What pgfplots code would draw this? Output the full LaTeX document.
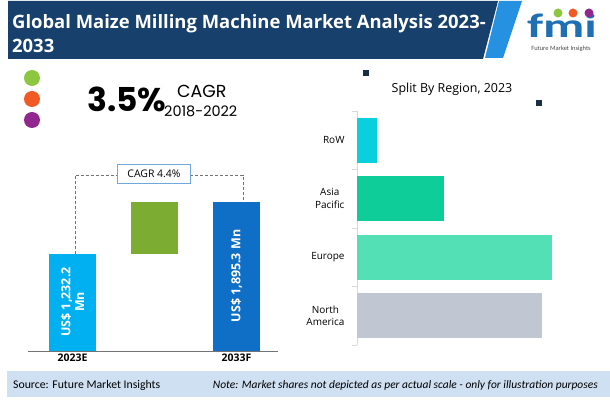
\documentclass[border=0pt]{standalone}
\usepackage{pgfplots}
\pgfplotsset{compat=1.18}
\usepackage{fontspec}
\setmainfont{Carlito}
\newfontfamily\gothic{Poppins}
\newfontfamily\osans{Open Sans}
\definecolor{banner}{HTML}{17406D}
\definecolor{stripe}{HTML}{2591E0}
\definecolor{foot}{HTML}{CFE0F2}
\definecolor{cA}{HTML}{00B0F0}
\definecolor{cB}{HTML}{7DAC33}
\definecolor{cC}{HTML}{0F6FC6}
\definecolor{boxb}{HTML}{6FA8DC}
\definecolor{rRoW}{HTML}{0ACFDC}
\definecolor{rAP}{HTML}{0FCD98}
\definecolor{rEU}{HTML}{52E0B4}
\definecolor{rNA}{HTML}{C0C7D2}
\definecolor{sq}{HTML}{1A2E45}
\definecolor{dg}{HTML}{8DC63F}
\definecolor{do}{HTML}{F15A24}
\definecolor{dp}{HTML}{92278F}
\definecolor{logob}{HTML}{1F6FB5}
\begin{document}
\begin{tikzpicture}
\begin{scope}[x=1bp,y=1bp]
\fill[white] (0,0) rectangle (610,399);
\end{scope}

% left bar chart
\begin{axis}[at={(28bp,48bp)},anchor=south west,scale only axis,width=250bp,height=181bp,
  xmin=-0.5427,xmax=2.506,ymin=0,ymax=2302,
  axis x line*=bottom,axis y line=none,
  x axis line style={draw=black!55,line width=0.9pt,-},
  xtick={0,2},xticklabels={2023E,2033F},
  xticklabel style={font=\fontsize{10.5}{12}\osans\bfseries,yshift=1bp},
  major tick length=0,ytick=\empty,
  ybar stacked,bar width=47bp,clip=false]
\addplot[fill=cA,draw=none] coordinates {(0,1232.2) (1,0) (2,0)};
\addplot[fill=none,draw=none] coordinates {(0,0) (1,1232.2) (2,0)};
\addplot[fill=cB,draw=none] coordinates {(0,0) (1,663.1) (2,0)};
\addplot[fill=cC,draw=none] coordinates {(0,0) (1,0) (2,1895.3)};
\end{axis}

% right bar chart
\begin{axis}[at={(357bp,54bp)},anchor=south west,scale only axis,width=243.75bp,height=234bp,
  xmin=0,xmax=50,ymin=-0.5,ymax=3.5,
  axis x line=none,axis y line*=left,
  y axis line style={draw=black!15,line width=1pt,-},
  ytick={0,1,2,3},yticklabels={North\\America,Europe,Asia\\Pacific,RoW},
  yticklabel style={align=center,font=\fontsize{10}{13}\osans,xshift=-9bp},
  major tick length=0,
  minor ytick={-0.5,0.5,1.5,2.5,3.5},minor tick length=5bp,tick align=outside,
  minor tick style={draw=black!15,line width=1pt},
  xbar,bar width=45bp,bar shift=0pt,clip=false]
\addplot[fill=rNA,draw=none] coordinates {(38.0,0)};
\addplot[fill=rEU,draw=none] coordinates {(40.0,1)};
\addplot[fill=rAP,draw=none] coordinates {(17.9,2)};
\addplot[fill=rRoW,draw=none] coordinates {(4.1,3)};
\end{axis}

\begin{scope}[x=1bp,y=1bp,shift={(0,399bp)},yscale=-1]
% banner
\fill[banner] (8,1) -- (498,1) -- (483,59) -- (8,59) -- cycle;
\fill[stripe] (499,1) -- (522,1) -- (503,58) -- (485,58) -- cycle;
\node[anchor=base west,white,font=\fontsize{18.5}{20}\osans\bfseries,inner sep=0] at (12,29) {Global Maize Milling Machine Market Analysis 2023-};
\node[anchor=base west,white,font=\fontsize{18.5}{20}\osans\bfseries,inner sep=0] at (12,53) {2033};
% logo
\node[logob,font=\fontsize{34}{34}\selectfont\bfseries,inner sep=0,xscale=1.5] at (562,26) {fmi};
\fill[dg] (558,13) circle (4.5);
\fill[do] (573,13) circle (4.5);
\fill[dp] (589,13) circle (4.5);
\node[black!70,font=\fontsize{6.5}{7}\selectfont,inner sep=0] at (561,49) {Future Market Insights};
% dots
\fill[dg] (32,78) circle (8);
\fill[do] (32,99) circle (8);
\fill[dp] (32,120) circle (8);
\node[anchor=base west,font=\fontsize{33}{33}\gothic\bfseries,inner sep=0] at (87,112) {3.5\%};
\node[anchor=base west,font=\fontsize{17.5}{18}\gothic,inner sep=0] at (177,98) {CAGR};
\node[anchor=base west,font=\fontsize{14.5}{15}\gothic,inner sep=0] at (164,117) {2018-2022};
% CAGR bracket
\draw[densely dashed,black!55,line width=0.6pt] (75,254) -- (75,175) -- (243,175) -- (243,202);
\node[fill=white,draw=boxb,line width=0.8pt,minimum width=73bp,minimum height=19bp,inner sep=0,font=\fontsize{10.5}{12}\osans] at (154,174) {CAGR 4.4\%};
% value labels in bars
\node[rotate=90,white,align=center,font=\fontsize{12.5}{14}\osans\bfseries] at (72.5,302) {US\$ 1,232.2\\Mn};
\node[rotate=90,white,align=center,font=\fontsize{12.5}{14}\osans\bfseries] at (236.5,276) {US\$ 1,895.3 Mn};
% squares
\fill[sq] (363,70) rectangle (369,76);
\fill[sq] (536,100) rectangle (542,106);
\node[font=\fontsize{12.5}{14}\osans,inner sep=0] at (452,89) {Split By Region, 2023};
% footer
\fill[foot] (7,371) rectangle (610,397);
\node[anchor=west,font=\fontsize{11.8}{13}\selectfont,inner sep=0] at (13,385) {Source: Future Market Insights};
\node[anchor=east,font=\fontsize{11.5}{13}\selectfont\itshape,inner sep=0] at (598,385) {Note: Market shares not depicted as per actual scale - only for illustration purposes};
\end{scope}
\end{tikzpicture}
\end{document}
